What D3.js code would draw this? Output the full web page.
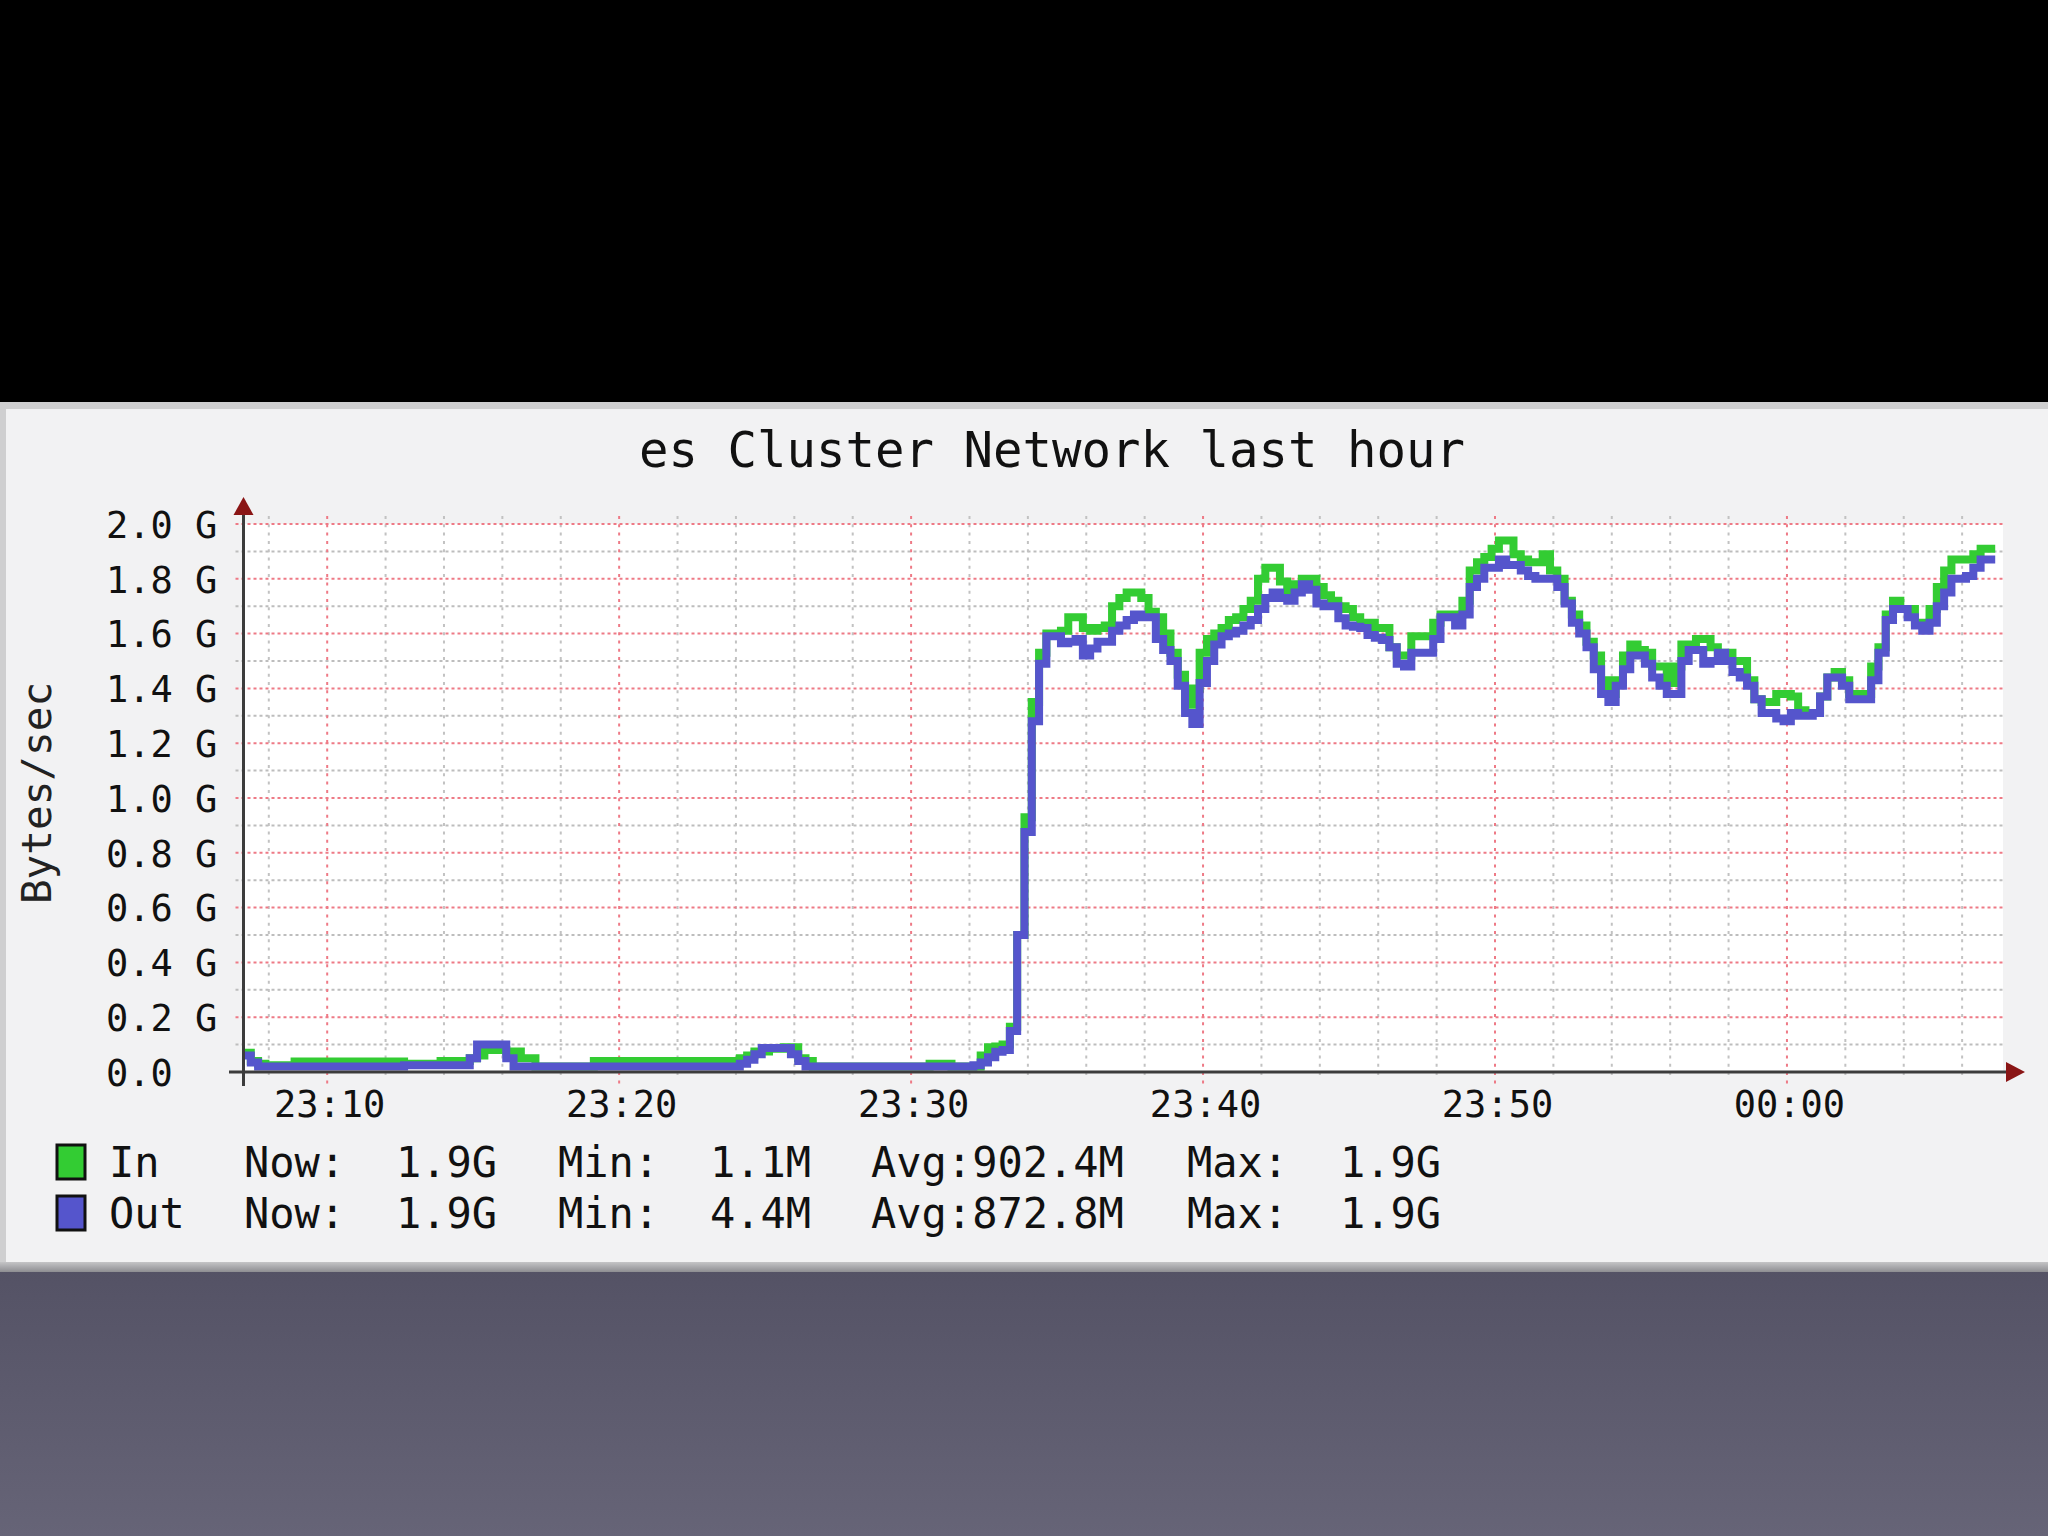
<!DOCTYPE html>
<html><head><meta charset="utf-8">
<script src="https://cdn.jsdelivr.net/npm/d3@7"></script>
<style>html,body{margin:0;padding:0;background:#000;} svg{display:block}</style>
</head><body>
<svg id="c" width="2048" height="1536"></svg>
<script>
// ---------------- data ----------------
const chartTitle = "es Cluster Network last hour";
const yAxisLabel = "Bytes/sec";
const seriesNames = ["In", "Out"];
const seriesColors = ["#33cc33", "#5555cc"];
const startTime = new Date(2012, 0, 1, 23, 7, 8);
const endTime = new Date(2012, 0, 2, 0, 7, 24);
const stepSeconds = 15;
const yTickValues = [0.0, 0.2, 0.4, 0.6, 0.8, 1.0, 1.2, 1.4, 1.6, 1.8, 2.0];
const yTickLabels = ["0.0", "0.2 G", "0.4 G", "0.6 G", "0.8 G", "1.0 G", "1.2 G", "1.4 G", "1.6 G", "1.8 G", "2.0 G"];
const xTickLabels = ["23:10", "23:20", "23:30", "23:40", "23:50", "00:00"];
const legendNow = ["1.9G", "1.9G"];
const legendMin = ["1.1M", "4.4M"];
const legendAvg = ["902.4M", "872.8M"];
const legendMax = ["1.9G", "1.9G"];

// In (bytes_in), G per sample, one sample each 15 s from 23:07:08
const inValues = [
  0.07, 0.04, 0.03, 0.025, 0.025, 0.025, 0.025, 0.038, 0.038, 0.038,
  0.038, 0.038, 0.038, 0.038, 0.038, 0.038, 0.038, 0.038, 0.038, 0.038,
  0.038, 0.038, 0.03, 0.03, 0.03, 0.03, 0.03, 0.04, 0.04, 0.04,
  0.04, 0.05, 0.06, 0.08, 0.08, 0.08, 0.075, 0.075, 0.05, 0.05,
  0.02, 0.02, 0.02, 0.02, 0.02, 0.02, 0.02, 0.02, 0.04, 0.04,
  0.04, 0.04, 0.04, 0.04, 0.04, 0.04, 0.025, 0.04, 0.04, 0.04,
  0.04, 0.04, 0.04, 0.04, 0.04, 0.04, 0.04, 0.04, 0.05, 0.06,
  0.075, 0.075, 0.085, 0.085, 0.09, 0.09, 0.05, 0.04, 0.02, 0.02,
  0.02, 0.02, 0.02, 0.02, 0.02, 0.02, 0.02, 0.02, 0.02, 0.02,
  0.02, 0.02, 0.02, 0.02, 0.03, 0.03, 0.03, 0.02, 0.02, 0.02,
  0.02, 0.06, 0.09, 0.093, 0.10, 0.165, 0.50, 0.93, 1.35, 1.53,
  1.60, 1.60, 1.61, 1.66, 1.66, 1.62, 1.61, 1.62, 1.63, 1.70,
  1.73, 1.75, 1.75, 1.73, 1.68, 1.66, 1.60, 1.53, 1.45, 1.34,
  1.40, 1.53, 1.58, 1.60, 1.62, 1.65, 1.66, 1.69, 1.72, 1.80,
  1.84, 1.84, 1.79, 1.75, 1.78, 1.80, 1.80, 1.77, 1.74, 1.72,
  1.70, 1.69, 1.66, 1.64, 1.64, 1.62, 1.62, 1.55, 1.52, 1.52,
  1.59, 1.59, 1.59, 1.64, 1.67, 1.67, 1.67, 1.72, 1.83, 1.86,
  1.88, 1.91, 1.94, 1.94, 1.89, 1.87, 1.86, 1.86, 1.89, 1.83,
  1.80, 1.72, 1.67, 1.63, 1.57, 1.52, 1.43, 1.38, 1.43, 1.52,
  1.56, 1.54, 1.53, 1.48, 1.48, 1.42, 1.48, 1.56, 1.56, 1.58,
  1.58, 1.55, 1.53, 1.53, 1.50, 1.50, 1.43, 1.36, 1.35, 1.35,
  1.38, 1.38, 1.37, 1.32, 1.31, 1.31, 1.37, 1.44, 1.46, 1.43,
  1.38, 1.38, 1.38, 1.48, 1.55, 1.67, 1.72, 1.69, 1.69, 1.64,
  1.64, 1.69, 1.77, 1.83, 1.87, 1.87, 1.87, 1.89, 1.91, 1.91
];

// Out (bytes_out)
const outValues = [
  0.06, 0.035, 0.02, 0.02, 0.02, 0.02, 0.02, 0.02, 0.02, 0.02,
  0.02, 0.02, 0.02, 0.02, 0.02, 0.02, 0.02, 0.02, 0.02, 0.02,
  0.02, 0.02, 0.025, 0.025, 0.025, 0.025, 0.025, 0.025, 0.025, 0.025,
  0.025, 0.05, 0.10, 0.10, 0.10, 0.10, 0.05, 0.02, 0.02, 0.02,
  0.02, 0.02, 0.02, 0.02, 0.02, 0.02, 0.02, 0.02, 0.02, 0.02,
  0.02, 0.02, 0.02, 0.02, 0.02, 0.02, 0.02, 0.02, 0.02, 0.02,
  0.02, 0.02, 0.02, 0.02, 0.02, 0.02, 0.02, 0.02, 0.03, 0.045,
  0.065, 0.088, 0.088, 0.088, 0.088, 0.065, 0.04, 0.02, 0.02, 0.02,
  0.02, 0.02, 0.02, 0.02, 0.02, 0.02, 0.02, 0.02, 0.02, 0.02,
  0.02, 0.02, 0.02, 0.02, 0.02, 0.02, 0.02, 0.02, 0.02, 0.02,
  0.025, 0.035, 0.054, 0.074, 0.08, 0.15, 0.50, 0.876, 1.28, 1.49,
  1.59, 1.59, 1.565, 1.57, 1.58, 1.52, 1.546, 1.57, 1.57, 1.61,
  1.63, 1.65, 1.67, 1.66, 1.66, 1.58, 1.54, 1.50, 1.41, 1.31,
  1.27, 1.42, 1.50, 1.56, 1.59, 1.60, 1.61, 1.63, 1.65, 1.69,
  1.73, 1.75, 1.73, 1.72, 1.75, 1.78, 1.76, 1.71, 1.70, 1.70,
  1.656, 1.63, 1.625, 1.62, 1.595, 1.585, 1.577, 1.55, 1.49, 1.48,
  1.53, 1.53, 1.53, 1.58, 1.66, 1.66, 1.63, 1.67, 1.77, 1.80,
  1.84, 1.84, 1.87, 1.85, 1.85, 1.83, 1.81, 1.80, 1.80, 1.80,
  1.77, 1.71, 1.64, 1.60, 1.55, 1.47, 1.38, 1.35, 1.41, 1.47,
  1.52, 1.52, 1.49, 1.44, 1.41, 1.38, 1.38, 1.50, 1.54, 1.54,
  1.49, 1.50, 1.53, 1.50, 1.46, 1.44, 1.41, 1.36, 1.31, 1.31,
  1.29, 1.28, 1.31, 1.30, 1.30, 1.31, 1.37, 1.44, 1.44, 1.41,
  1.36, 1.36, 1.36, 1.43, 1.53, 1.65, 1.69, 1.69, 1.66, 1.63,
  1.61, 1.64, 1.70, 1.75, 1.80, 1.80, 1.81, 1.84, 1.87, 1.87
];

// ---------------- layout ----------------
const W = 2048, H = 1536;
const plot = {left: 243.5, right: 2003, top: 524, bottom: 1072};
const FONT = "'DejaVu Sans Mono', 'Liberation Mono', monospace";

const svg = d3.select("#c");
const defs = svg.append("defs");
const bg = defs.append("linearGradient").attr("id", "bgGrad").attr("x1", 0).attr("y1", 0).attr("x2", 0).attr("y2", 1);
bg.append("stop").attr("offset", "0%").attr("stop-color", "#545265");
bg.append("stop").attr("offset", "100%").attr("stop-color", "#666477");
const bb = defs.append("linearGradient").attr("id", "botBorder").attr("x1", 0).attr("y1", 0).attr("x2", 0).attr("y2", 1);
bb.append("stop").attr("offset", "0%").attr("stop-color", "#c4c4c6");
bb.append("stop").attr("offset", "100%").attr("stop-color", "#8e8e92");
defs.append("clipPath").attr("id", "plotClip").append("rect")
  .attr("x", plot.left).attr("y", plot.top - 20).attr("width", plot.right - plot.left).attr("height", plot.bottom - plot.top + 20);

// backgrounds
svg.append("rect").attr("x", 0).attr("y", 0).attr("width", W).attr("height", 403).attr("fill", "#000");
svg.append("rect").attr("x", 0).attr("y", 1268).attr("width", W).attr("height", H - 1268).attr("fill", "url(#bgGrad)");
svg.append("rect").attr("x", 0).attr("y", 402).attr("width", W).attr("height", 870).attr("fill", "#cfcfd0");
svg.append("rect").attr("x", 0).attr("y", 1262).attr("width", W).attr("height", 10).attr("fill", "url(#botBorder)");
svg.append("rect").attr("x", 6).attr("y", 409).attr("width", W - 6).attr("height", 853).attr("fill", "#f2f2f3");
svg.append("rect").attr("x", plot.left).attr("y", plot.top).attr("width", plot.right - plot.left).attr("height", plot.bottom - plot.top).attr("fill", "#ffffff");

// scales
const x = d3.scaleTime().domain([startTime, endTime]).range([plot.left, plot.right]);
const y = d3.scaleLinear().domain([0, 2.0]).range([plot.bottom, plot.top]);

// grid
const gridG = svg.append("g");
const minorX = x.ticks(d3.timeMinute.every(2)).filter(d => d.getMinutes() % 10 !== 0);
const majorX = x.ticks(d3.timeMinute.every(10));
const minorY = d3.range(1, 20, 2).map(i => i / 10);
gridG.selectAll(".hmin").data(minorY).join("line")
  .attr("x1", plot.left - 8).attr("x2", plot.right).attr("y1", d => y(d)).attr("y2", d => y(d))
  .attr("stroke", "#bdbdbd").attr("stroke-width", 2).attr("stroke-dasharray", "3,3");
gridG.selectAll(".vmin").data(minorX).join("line")
  .attr("x1", d => x(d)).attr("x2", d => x(d)).attr("y1", plot.top - 8).attr("y2", plot.bottom + 6)
  .attr("stroke", "#c2c2c2").attr("stroke-width", 2).attr("stroke-dasharray", "3,5.3");
gridG.selectAll(".hmaj").data(yTickValues.filter(v => v > 0)).join("line")
  .attr("x1", plot.left - 8).attr("x2", plot.right).attr("y1", d => y(d)).attr("y2", d => y(d))
  .attr("stroke", "#ee7a86").attr("stroke-width", 2).attr("stroke-dasharray", "3,3");
gridG.selectAll(".vmaj").data(majorX).join("line")
  .attr("x1", d => x(d)).attr("x2", d => x(d)).attr("y1", plot.top - 8).attr("y2", plot.bottom + 12)
  .attr("stroke", "#ee7a86").attr("stroke-width", 2).attr("stroke-dasharray", "3,5.3");

// series lines
function seriesPoints(vals) {
  const pts = vals.map((v, i) => [new Date(+startTime + i * stepSeconds * 1000), v]);
  pts.push([new Date(+startTime + vals.length * stepSeconds * 1000), vals[vals.length - 1]]);
  return pts;
}
const line = d3.line().x(d => x(d[0])).y(d => y(d[1])).curve(d3.curveStepAfter);
const linesG = svg.append("g").attr("clip-path", "url(#plotClip)");
[inValues, outValues].forEach((vals, i) => {
  linesG.append("path").attr("d", line(seriesPoints(vals)))
    .attr("fill", "none").attr("stroke", seriesColors[i]).attr("stroke-width", 8)
    .attr("stroke-linejoin", "miter").attr("stroke-linecap", "butt");
});

// axes
const axisColor = "#3c3c3c";
const xAxis = svg.append("g").attr("transform", `translate(0,${plot.bottom})`)
  .call(d3.axisBottom(x).tickValues(majorX).tickSize(0).tickFormat((d, i) => xTickLabels[i]));
xAxis.select(".domain").remove();
xAxis.selectAll("text").attr("font-family", FONT).attr("font-size", 37).attr("fill", "#111")
  .attr("dy", null).attr("y", 45).attr("dx", 2);

const yAxis = svg.append("g").attr("transform", `translate(${plot.left},0)`)
  .call(d3.axisLeft(y).tickValues(yTickValues).tickSize(0).tickFormat((d, i) => yTickLabels[i]));
yAxis.select(".domain").remove();
yAxis.selectAll("text").attr("font-family", FONT).attr("font-size", 37).attr("fill", "#111")
  .attr("text-anchor", "start").attr("x", 106 - plot.left).attr("dy", "0.36em");

svg.append("line").attr("x1", 229).attr("x2", 2008).attr("y1", plot.bottom).attr("y2", plot.bottom)
  .attr("stroke", axisColor).attr("stroke-width", 3);
svg.append("line").attr("x1", plot.left).attr("x2", plot.left).attr("y1", 512).attr("y2", 1086)
  .attr("stroke", axisColor).attr("stroke-width", 3);
svg.append("path").attr("d", `M${plot.left - 10},${515} L${plot.left},${497} L${plot.left + 10},${515} Z`).attr("fill", "#8a1515");
svg.append("path").attr("d", `M2006,${plot.bottom - 10} L2025,${plot.bottom} L2006,${plot.bottom + 10} Z`).attr("fill", "#8a1515");

// title
svg.append("text").attr("x", 639).attr("y", 467).attr("font-family", FONT).attr("font-size", 49)
  .attr("fill", "#111").text(chartTitle);

// y label
svg.append("text").attr("transform", "translate(51,793) rotate(-90)").attr("text-anchor", "middle")
  .attr("font-family", FONT).attr("font-size", 41).attr("fill", "#222").text(yAxisLabel);

// legend
const legendRowsY = [1177, 1228];
const legendG = svg.append("g").attr("font-family", FONT).attr("font-size", 42).attr("fill", "#111");
seriesNames.forEach((name, i) => {
  const yy = legendRowsY[i];
  legendG.append("rect").attr("x", 57).attr("y", yy - 32).attr("width", 28).attr("height", 34)
    .attr("fill", seriesColors[i]).attr("stroke", "#111").attr("stroke-width", 3);
  const pieces = [[109, name], [244, "Now:"], [396, legendNow[i]], [558, "Min:"], [710, legendMin[i]],
                  [871, "Avg:" + legendAvg[i]], [1187, "Max:"], [1340, legendMax[i]]];
  pieces.forEach(p => legendG.append("text").attr("x", p[0]).attr("y", yy).text(p[1]));
});
</script>
</body></html>
